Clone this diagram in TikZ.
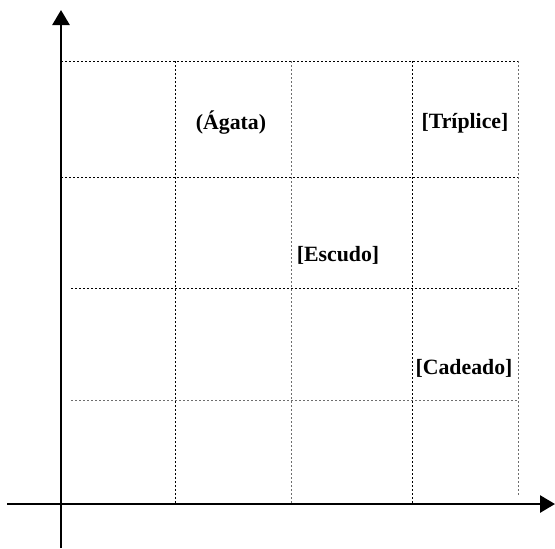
\documentclass[tikz,border=0pt]{standalone}
\usepackage{fontspec}
\setmainfont{Liberation Serif}
\usepackage{xcolor}
\usepackage{tikz}
\usetikzlibrary{arrows.meta,positioning}
\definecolor{dark}{HTML}{000000}
\definecolor{gridgray}{HTML}{6E6E6E}

\begin{document}
\begin{tikzpicture}[x=0.5pt, y=-0.5pt,
    axis/.style={-{Triangle[length=7.5pt, width=8.5pt]}, line width=1.35pt, color=dark},
    gridline/.style={line width=0.5pt, dash pattern=on 1.2pt off 0.8pt, color=dark},
    softline/.style={gridline, color=gridgray},
    tag/.style={font=\fontsize{10.9}{12}\selectfont\bfseries, inner sep=0pt}
]
    \useasboundingbox (0,0) rectangle (555,548);

    % Grid
    \draw[gridline] (61,61) -- (518,61);
    \draw[gridline] (61,177) -- (518,177);
    \draw[gridline] (71,288) -- (518,288);
    \draw[softline] (71,400) -- (518,400);
    \draw[gridline] (175,61) -- (175,504);
    \draw[softline] (291,61) -- (291,504);
    \draw[gridline] (412,61) -- (412,504);
    \draw[softline] (518,61) -- (518,496);

    % Labels
    \node[tag] (agata) at (231,123) {(Ágata)};
    \node[tag] (triplice) at (465,123) {[Tríplice]};
    \node[tag] (escudo) at (338,255) {[Escudo]};
    \node[tag] (cadeado) at (464,368) {[Cadeado]};

    % Axes
    \coordinate (ybot) at (61,548);
    \coordinate (ytop) at (61,10);
    \coordinate (xleft) at (7,504);
    \coordinate (xright) at (555,504);
    \draw[axis] (ybot) -- (ytop);
    \draw[axis] (xleft) -- (xright);
\end{tikzpicture}
\end{document}
